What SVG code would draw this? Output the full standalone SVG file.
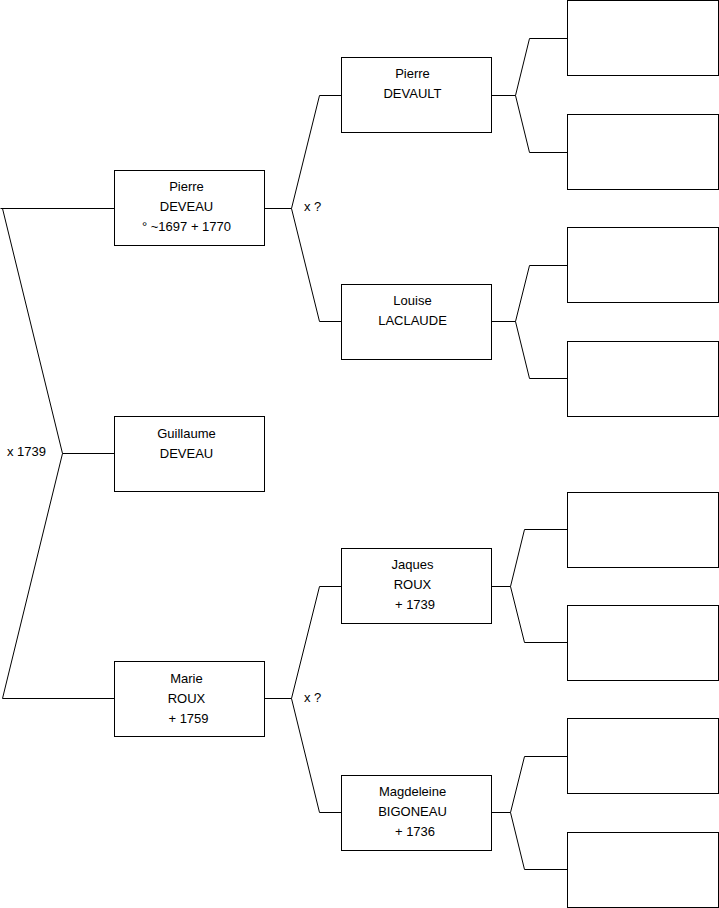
<svg xmlns="http://www.w3.org/2000/svg" width="719" height="908" viewBox="0 0 719 908">
<style>
.box{fill:#fff;stroke:#000;stroke-width:1}
.ln{fill:none;stroke:#000;stroke-width:1}
text{font-family:"Liberation Sans",Arial,sans-serif;font-size:13px;fill:#000}
.c{text-anchor:middle}
</style>
<rect width="719" height="908" fill="#fff"/>
<g id="connectors">
<path class="ln" d="M0.5,208.5 H114 M2.5,208.5 L62.5,453.5 L2.5,698.5 H114 M62.5,453.5 H114"/>
<path class="ln" d="M265,208.5 H291.5 L319.5,95.5 H341 M291.5,208.5 L319.5,321.5 H341"/>
<path class="ln" d="M265,698.5 H291.5 L319.5,586.5 H341 M291.5,698.5 L319.5,812.5 H341"/>
<path class="ln" d="M492,95.5 H515.5 L529.5,38.5 H567 M515.5,95.5 L529.5,152.5 H567"/>
<path class="ln" d="M492,321.5 H515.5 L529.5,265.5 H567 M515.5,321.5 L529.5,378.5 H567"/>
<path class="ln" d="M492,586.5 H510.5 L524.5,529.5 H567 M510.5,586.5 L524.5,642.5 H567"/>
<path class="ln" d="M492,812.5 H510.5 L524.5,756.5 H567 M510.5,812.5 L524.5,869.5 H567"/>
<text x="7" y="456">x 1739</text>
<text x="304" y="211">x ?</text>
<text x="304" y="702">x ?</text>
</g>
<g id="pierre-deveau"><rect class="box" x="114.5" y="170.5" width="150" height="75"/>
<text class="c" x="186.5" y="191">Pierre</text><text class="c" x="186.5" y="211">DEVEAU</text><text class="c" x="186.5" y="231">° ~1697 + 1770</text></g>
<g id="guillaume-deveau"><rect class="box" x="114.5" y="416.5" width="150" height="75"/>
<text class="c" x="186.5" y="438">Guillaume</text><text class="c" x="186.5" y="458">DEVEAU</text></g>
<g id="marie-roux"><rect class="box" x="114.5" y="661.5" width="150" height="75"/>
<text class="c" x="186.5" y="683">Marie</text><text class="c" x="186.5" y="703">ROUX</text><text class="c" x="188.5" y="723">+ 1759</text></g>
<g id="pierre-devault"><rect class="box" x="341.5" y="57.5" width="150" height="75"/>
<text class="c" x="412.5" y="78">Pierre</text><text class="c" x="412.5" y="98">DEVAULT</text></g>
<g id="louise-laclaude"><rect class="box" x="341.5" y="284.5" width="150" height="75"/>
<text class="c" x="412.5" y="305">Louise</text><text class="c" x="412.5" y="325">LACLAUDE</text></g>
<g id="jaques-roux"><rect class="box" x="341.5" y="548.5" width="150" height="75"/>
<text class="c" x="412.5" y="569">Jaques</text><text class="c" x="412.5" y="589">ROUX</text><text class="c" x="415" y="609">+ 1739</text></g>
<g id="magdeleine-bigoneau"><rect class="box" x="341.5" y="775.5" width="150" height="75"/>
<text class="c" x="412.5" y="796">Magdeleine</text><text class="c" x="412.5" y="816">BIGONEAU</text><text class="c" x="415" y="836">+ 1736</text></g>
<g id="g3-1"><rect class="box" x="567.5" y="0.5" width="151" height="75"/></g>
<g id="g3-2"><rect class="box" x="567.5" y="114.5" width="151" height="75"/></g>
<g id="g3-3"><rect class="box" x="567.5" y="227.5" width="151" height="75"/></g>
<g id="g3-4"><rect class="box" x="567.5" y="341.5" width="151" height="75"/></g>
<g id="g3-5"><rect class="box" x="567.5" y="492.5" width="151" height="75"/></g>
<g id="g3-6"><rect class="box" x="567.5" y="605.5" width="151" height="75"/></g>
<g id="g3-7"><rect class="box" x="567.5" y="718.5" width="151" height="75"/></g>
<g id="g3-8"><rect class="box" x="567.5" y="832.5" width="151" height="75"/></g>
</svg>
